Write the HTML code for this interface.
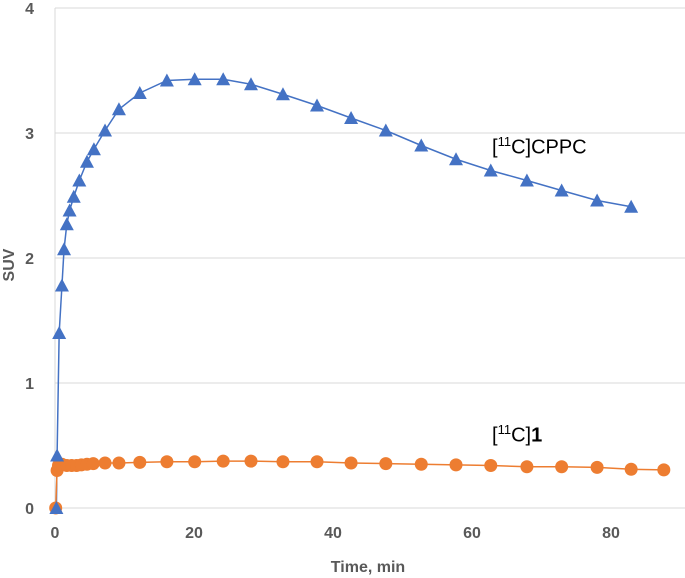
<!DOCTYPE html>
<html><head><meta charset="utf-8"><style>body{margin:0;background:#fff}svg{display:block;font-family:"Liberation Sans",sans-serif}</style></head>
<body>
<svg id="c" width="685" height="578"></svg>
<script>
const blueT=[0.2,0.3,0.6,1,1.3,1.7,2.1,2.7,3.5,4.6,5.6,7.2,9.2,12.2,16.1,20.1,24.2,28.2,32.8,37.7,42.6,47.6,52.7,57.7,62.7,67.9,72.9,78,82.9];
const blueV=[0,0.42,1.4,1.78,2.07,2.27,2.38,2.49,2.62,2.77,2.87,3.02,3.19,3.32,3.42,3.43,3.43,3.39,3.31,3.22,3.12,3.02,2.9,2.79,2.7,2.62,2.54,2.46,2.41];
const orT=[0.1,0.3,0.5,1,1.7,2.4,3.1,3.8,4.6,5.5,7.2,9.2,12.2,16.1,20.1,24.2,28.2,32.8,37.7,42.6,47.6,52.7,57.7,62.7,67.9,72.9,78,82.9,87.6];
const orV=[0,0.3,0.34,0.35,0.34,0.34,0.34,0.345,0.35,0.355,0.36,0.36,0.365,0.37,0.37,0.375,0.375,0.37,0.37,0.36,0.355,0.35,0.345,0.34,0.33,0.33,0.325,0.31,0.305];
const yTicks=[0,1,2,3,4];const xTicks=[0,20,40,60,80];
const X=t=>55+t*6.95, Y=v=>508-v*125;
const s=document.getElementById('c');const NS='http://www.w3.org/2000/svg';
function mk(tag,a,txt){const e=document.createElementNS(NS,tag);for(const k in a)e.setAttribute(k,a[k]);if(txt!=null)e.textContent=txt;s.appendChild(e);return e;}
for(const v of yTicks){
const g=mk('line',{x1:55,x2:685,y1:Y(v),y2:Y(v),stroke:'#d9d9d9','stroke-width':1});


const t=mk('text',{x:34,y:Y(v)+6,'font-size':16,'font-weight':'bold',fill:'#595959','text-anchor':'end'},v);

}
const ax=mk('line',{x1:55,x2:55,y1:8,y2:508,stroke:'#d9d9d9'});


for(const v of xTicks){const t=mk('text',{x:X(v),y:538,'font-size':16,'font-weight':'bold',fill:'#595959','text-anchor':'middle'},v);

}
const xt=mk('text',{x:368,y:572,'font-size':16,'font-weight':'bold',fill:'#595959','text-anchor':'middle'},'Time, min');


const yt=mk('text',{x:14,y:265,'font-size':16,'font-weight':'bold',fill:'#595959','text-anchor':'middle',transform:'rotate(-90 14 265)'},'SUV');


const lb=mk('polyline',{points:blueT.map((t,i)=>X(t)+','+Y(blueV[i])).join(' '),fill:'none',stroke:'#4472c4','stroke-width':1.5});


const lo=mk('polyline',{points:orT.map((t,i)=>X(t)+','+Y(orV[i])).join(' '),fill:'none',stroke:'#ed7d31','stroke-width':1.5});


orT.forEach((t,i)=>{const c=mk('circle',{cx:X(t),cy:Y(orV[i]),r:6.5,fill:'#ed7d31'});

});
blueT.forEach((t,i)=>{const x=X(t),y=Y(blueV[i]);const p=mk('polygon',{points:`${x},${y-7} ${x-7},${y+6} ${x+7},${y+6}`,fill:'#4472c4'});

});
</script>
<div style="position:absolute;left:492px;top:134px;font:20px 'Liberation Sans',sans-serif;color:#000">[<sup style="font-size:13px">11</sup>C]CPPC</div>
<div style="position:absolute;left:492px;top:422px;font:20px 'Liberation Sans',sans-serif;color:#000">[<sup style="font-size:13px">11</sup>C]<b>1</b></div>
</body></html>
